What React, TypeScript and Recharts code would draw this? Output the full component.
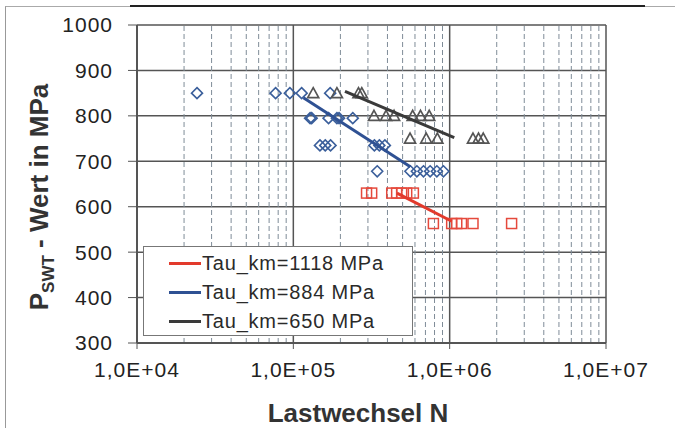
import React from 'react';
import {
  ScatterChart, Scatter, XAxis, YAxis, CartesianGrid, ReferenceLine, Legend,
} from 'recharts';

// Lastwechsel N / P_SWT values
const blueN = [24200, 77000, 95000, 113000, 172000, 128000, 131000, 168000, 190000, 196000, 240000,
  148000, 160000, 173000, 330000, 355000, 385000, 344000, 561000, 617000, 680000, 750000, 828000, 912000];
const blueP = [850, 850, 850, 850, 850, 795, 795, 795, 795, 795, 795,
  735, 735, 735, 735, 735, 735, 678, 678, 678, 678, 678, 678, 678];

const grayN = [134000, 190000, 261000, 274000, 328000, 392000, 441000, 580000, 651000, 740000,
  558000, 708000, 834000, 1410000, 1530000, 1640000];
const grayP = [850, 850, 850, 850, 800, 800, 800, 800, 800, 800,
  750, 750, 750, 750, 750, 750];

const redN = [294000, 317000, 426000, 458000, 493000, 531000, 586000,
  787000, 1030000, 1110000, 1190000, 1410000, 2490000];
const redP = [630, 630, 630, 630, 630, 630, 630,
  563, 563, 563, 563, 563, 563];

// fit lines (end points)
const redFitN = [460000, 1030000];
const redFitP = [630, 568];
const blueFitN = [116000, 560000];
const blueFitP = [840, 688];
const grayFitN = [214000, 1070000];
const grayFitP = [854, 752];

const legendItems = [
  { label: 'Tau_km=1118 MPa', color: '#e23a2c' },
  { label: 'Tau_km=884 MPa', color: '#2f5193' },
  { label: 'Tau_km=650 MPa', color: '#3a3a3a' },
];

const decadeTicks = [1e4, 1e5, 1e6, 1e7];
const yTicks = [300, 400, 500, 600, 700, 800, 900, 1000];
const minorGrid = [1e4, 1e5, 1e6].flatMap((d) => [2, 3, 4, 5, 6, 7, 8, 9].map((m) => m * d));

const toPoints = (ns: number[], ps: number[]) => ns.map((n, i) => ({ n, p: ps[i] }));

const FONT = '"Liberation Sans", Arial, sans-serif';

const Diamond = (props: any) => {
  const { cx, cy } = props;
  const r = 5.5;
  return (
    <polygon
      points={`${cx},${cy - r} ${cx + r},${cy} ${cx},${cy + r} ${cx - r},${cy}`}
      fill="none" stroke="#3b5f9b" strokeWidth={1.6}
    />
  );
};

const Triangle = (props: any) => {
  const { cx, cy } = props;
  return (
    <polygon
      points={`${cx},${cy - 5.5} ${cx + 5.5},${cy + 4.5} ${cx - 5.5},${cy + 4.5}`}
      fill="none" stroke="#555" strokeWidth={1.7}
    />
  );
};

const Square = (props: any) => {
  const { cx, cy } = props;
  return <rect x={cx - 5} y={cy - 5} width={10} height={10} fill="none" stroke="#e5493c" strokeWidth={1.5} />;
};

const NoDot = () => <g />;

const fmtTick = (v: number) => '1,0E+0' + Math.round(Math.log10(v));

const YLabel = () => (
  <text
    transform="translate(48,197) rotate(-90)"
    textAnchor="middle"
    fontFamily={FONT}
    fontSize={26}
    fontWeight="bold"
    fill="#333"
  >
    P<tspan fontSize={17} dy={6}>SWT</tspan>
    <tspan dy={-6}> - Wert in MPa</tspan>
  </text>
);

const XLabel = () => (
  <text x={358} y={422} textAnchor="middle" fontFamily={FONT} fontSize={26} fontWeight="bold" fill="#333">
    Lastwechsel N
  </text>
);

const LegendBox = () => (
  <div
    style={{
      width: 270, height: 90, border: '1.5px solid #777', background: '#fff',
      boxSizing: 'border-box', paddingTop: 2, fontFamily: FONT,
    }}
  >
    {legendItems.map((it) => (
      <div key={it.label} style={{ display: 'flex', alignItems: 'center', height: 29, paddingLeft: 25 }}>
        <span style={{ display: 'inline-block', width: 32, height: 3, background: it.color }} />
        <span style={{ fontSize: 20, color: '#2a2a2a', letterSpacing: 0.8, marginLeft: 1 }}>{it.label}</span>
      </div>
    ))}
  </div>
);

export default function App() {
  return (
    <div style={{ position: 'absolute', left: 0, top: 0, width: 675, height: 428, background: '#fff' }}>
      <div style={{ position: 'absolute', left: 5, top: 6, width: 670, height: 422, borderTop: '1px solid #aaa', borderLeft: '1.5px solid #999' }} />
      <div style={{ position: 'absolute', left: 130, top: 5, width: 515, height: 2, background: '#222' }} />
      <ScatterChart width={675} height={428} margin={{ top: 25, right: 69, left: 77, bottom: 45 }}>
        <CartesianGrid vertical={false} stroke="#555" strokeWidth={1.5} />
        {minorGrid.map((v) => (
          <ReferenceLine key={v} x={v} stroke="#7f8c98" strokeDasharray="5 3" strokeWidth={1} />
        ))}
        {decadeTicks.map((v) => (
          <ReferenceLine key={'d' + v} x={v} stroke="#555" strokeWidth={1.5} />
        ))}
        <XAxis
          dataKey="n" type="number" scale="log" domain={[1e4, 1e7]} ticks={decadeTicks}
          allowDataOverflow interval={0} tickFormatter={fmtTick}
          tick={{ fontSize: 21, fill: '#222', fontFamily: FONT, letterSpacing: 1 }}
          axisLine={{ stroke: '#555', strokeWidth: 2 }} tickLine={{ stroke: '#555' }}
          tickSize={6} tickMargin={13} height={40}
          label={<XLabel />}
        />
        <YAxis
          dataKey="p" type="number" domain={[300, 1000]} ticks={yTicks} interval={0}
          tick={{ fontSize: 21, fill: '#222', fontFamily: FONT, letterSpacing: 1 }}
          axisLine={{ stroke: '#555', strokeWidth: 2 }} tickLine={{ stroke: '#555' }}
          tickSize={9} tickMargin={15} width={60}
          label={<YLabel />}
        />
        <Scatter data={toPoints(blueN, blueP)} shape={Diamond} isAnimationActive={false} />
        <Scatter data={toPoints(grayN, grayP)} shape={Triangle} isAnimationActive={false} />
        <Scatter data={toPoints(redN, redP)} shape={Square} isAnimationActive={false} />
        <Scatter data={toPoints(redFitN, redFitP)} shape={NoDot} line={{ stroke: '#e23a2c', strokeWidth: 3 }} isAnimationActive={false} />
        <Scatter data={toPoints(blueFitN, blueFitP)} shape={NoDot} line={{ stroke: '#2f5193', strokeWidth: 3 }} isAnimationActive={false} />
        <Scatter data={toPoints(grayFitN, grayFitP)} shape={NoDot} line={{ stroke: '#3a3a3a', strokeWidth: 3 }} isAnimationActive={false} />
        <Legend
          layout="vertical" align="center" verticalAlign="middle"
          content={<LegendBox />}
          wrapperStyle={{ left: 143, top: 246, width: 270, height: 90 }}
        />
      </ScatterChart>
    </div>
  );
}
